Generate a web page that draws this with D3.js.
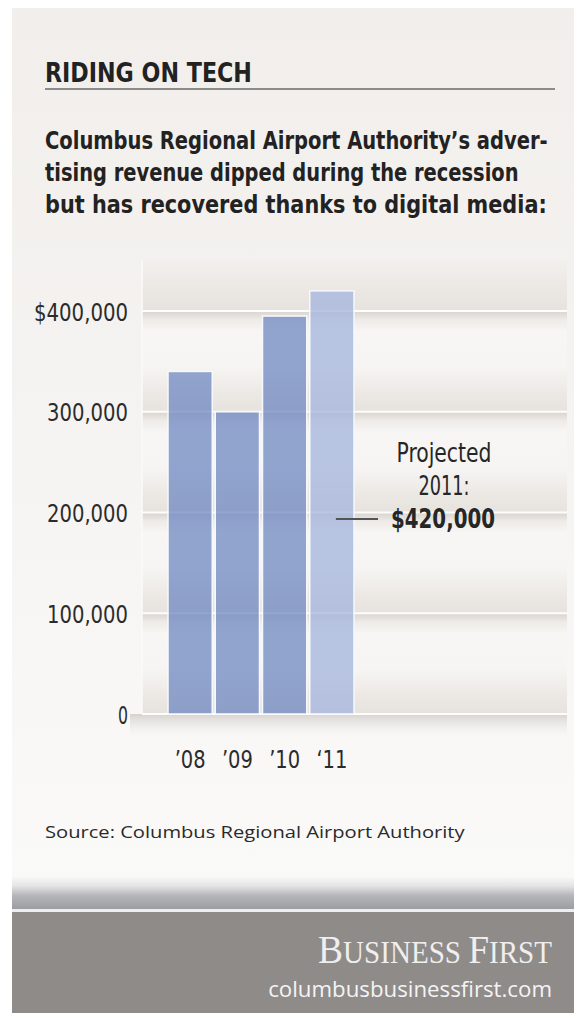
<!DOCTYPE html>
<html>
<head>
<meta charset="utf-8">
<script src="https://cdn.jsdelivr.net/npm/d3@7"></script>
<style>
  body { margin: 0; background: #ffffff; }
  svg { display: block; }
</style>
</head>
<body>
<svg width="574" height="1013"></svg>
<script>
// data
const years = ["\u201908", "\u201909", "\u201910", "\u201811"];
const revenue = [340000, 300000, 395000, 420000];
const projected = [false, false, false, true];
const yTicks = [0, 100000, 200000, 300000, 400000];
const subtitle = [
    "Columbus Regional Airport Authority\u2019s adver-",
    "tising revenue dipped during the recession",
    "but has recovered thanks to digital media:"
];
const noteLines = ["Projected", "2011:"];
const noteValue = "$420,000";

const narrow = "'Liberation Sans Narrow', 'DejaVu Sans Condensed', 'Roboto Condensed', sans-serif";

var svg = d3.select("svg");
var defs = svg.append("defs");

function grad(id, stops) {
    var g = defs.append("linearGradient").attr("id", id)
        .attr("x1", 0).attr("y1", 0).attr("x2", 0).attr("y2", 1);
    stops.forEach(function (s) {
        g.append("stop").attr("offset", s[0]).attr("stop-color", s[1])
            .attr("stop-opacity", s[2] === undefined ? 1 : s[2]);
    });
}

// squeeze a text horizontally to a width, scaling round its anchor point
function fit(sel, px, py, width) {
    sel.each(function (d, i) {
        var w = typeof width === "function" ? width(d, i) : width;
        var ax = typeof px === "function" ? px(d, i) : px;
        var ay = typeof py === "function" ? py(d, i) : py;
        var len = this.getComputedTextLength();
        d3.select(this).attr("x", 0).attr("y", 0)
            .attr("transform", "translate(" + ax + "," + ay + ") scale(" + (w / len) + ",1)");
    });
}

grad("card", [[0, "#f1eeeb"], [0.75, "#f9f8f7"], [1, "#fbfbfa"]]);
grad("band", [[0, "#d8d4d0"], [0.09, "#eeebe8"], [0.2, "#f7f6f4"], [0.55, "#f6f5f3"], [0.85, "#ebe7e3"], [1, "#e6e2de"]]);
grad("topband", [[0, "#f2f0ed"], [0.5, "#ece9e5"], [1, "#e6e2de"]]);
grad("baseShadow", [[0, "#d6d2ce", 1], [1, "#f8f8f7", 0]]);
grad("footer", [[0, "#fafafa"], [0.3, "#e4e4e5"], [0.6, "#b4b5b8"], [1, "#9c9da1"]]);

// card
svg.append("rect").attr("x", 12).attr("y", 8).attr("width", 562).attr("height", 1005)
    .attr("fill", "url(#card)");

// title
svg.append("text")
    .attr("font-family", narrow).attr("font-weight", "bold").attr("font-size", 27)
    .attr("fill", "#222")
    .text("RIDING ON TECH")
    .call(fit, 45, 82, 207);

svg.append("line").attr("x1", 45).attr("x2", 555).attr("y1", 89).attr("y2", 89)
    .attr("stroke", "#8d8b89").attr("stroke-width", 2);

var subLen = [503, 474, 502];
svg.append("g").selectAll("text")
    .data(subtitle)
    .enter()
    .append("text")
    .attr("font-family", narrow).attr("font-weight", "bold").attr("font-size", 24)
    .attr("fill", "#222")
    .text(function (d) { return d; })
    .call(fit, 45, function (d, i) { return 149 + i * 32; }, function (d, i) { return subLen[i]; });

// scales
var x = d3.scaleBand()
    .domain(years)
    .range([166.5, 355.5])
    .paddingInner(0.064)
    .paddingOuter(0.032);

var y = d3.scaleLinear()
    .domain([0, 400000])
    .range([714, 311]);

var plotLeft = 142, plotRight = 567;

// striped background bands
var plot = svg.append("g");
plot.append("rect")
    .attr("x", plotLeft).attr("width", plotRight - plotLeft)
    .attr("y", y(450000)).attr("height", y(400000) - y(450000))
    .attr("fill", "url(#topband)");

plot.selectAll("rect.band")
    .data(yTicks.slice(1))
    .enter()
    .append("rect")
    .attr("class", "band")
    .attr("x", plotLeft).attr("width", plotRight - plotLeft)
    .attr("y", function (d) { return y(d); })
    .attr("height", function (d) { return y(d - 100000) - y(d); })
    .attr("fill", "url(#band)");

plot.append("rect")
    .attr("x", 130).attr("width", plotRight - 130)
    .attr("y", y(0)).attr("height", 26)
    .attr("fill", "url(#baseShadow)");

plot.selectAll("line.grid")
    .data(yTicks)
    .enter()
    .append("line")
    .attr("class", "grid")
    .attr("x1", plotLeft).attr("x2", plotRight)
    .attr("y1", function (d) { return y(d); })
    .attr("y2", function (d) { return y(d); })
    .attr("stroke", "#fdfdfc").attr("stroke-width", 2);

plot.append("line")
    .attr("x1", plotLeft).attr("x2", plotLeft)
    .attr("y1", y(450000)).attr("y2", y(0))
    .attr("stroke", "#fbfaf9").attr("stroke-width", 1.5);

// bars
svg.append("g")
    .selectAll("rect")
    .data(revenue)
    .enter()
    .append("rect")
    .attr("x", function (d, i) { return x(years[i]); })
    .attr("width", x.bandwidth())
    .attr("y", function (d) { return y(d); })
    .attr("height", function (d) { return y(0) - y(d); })
    .attr("fill", function (d, i) { return projected[i] ? "#a3b4dc" : "#6f88c2"; })
    .attr("fill-opacity", 0.75)
    .attr("stroke", "#f7f8fc")
    .attr("stroke-width", 1.5);

// y axis
var y_axis = d3.axisLeft(y)
    .tickValues(yTicks)
    .tickSize(0)
    .tickPadding(0)
    .tickFormat(function (d) { return d === 400000 ? "$" + d3.format(",")(d) : d3.format(",")(d); });

var yg = svg.append("g")
    .attr("transform", "translate(128,0)")
    .call(y_axis);
yg.select(".domain").remove();
yg.selectAll("text")
    .attr("font-family", narrow).attr("font-size", 25).attr("fill", "#2b2b2b")
    .attr("dy", null)
    .call(fit, 0, 9, function (d) { return d === 0 ? 10 : (d === 400000 ? 94 : 81); });

// x axis
var x_axis = d3.axisBottom(x).tickSize(0).tickPadding(0);
var xg = svg.append("g")
    .attr("transform", "translate(0,768)")
    .call(x_axis);
xg.select(".domain").remove();
xg.selectAll("text")
    .attr("font-family", narrow).attr("font-size", 25).attr("fill", "#2b2b2b")
    .attr("dy", null)
    .call(fit, 0, 0, 31);

// projection note
var note = svg.append("g").attr("font-family", narrow).attr("fill", "#262626").attr("text-anchor", "middle");
note.selectAll("text.l")
    .data(noteLines)
    .enter()
    .append("text")
    .attr("class", "l")
    .attr("font-size", 26)
    .text(function (d) { return d; })
    .call(fit, 444, function (d, i) { return 462 + i * 33; }, function (d, i) { return i === 0 ? 95 : 51; });
note.append("text")
    .attr("font-size", 27).attr("font-weight", "bold")
    .text(noteValue)
    .call(fit, 443, 528, 104);
svg.append("line")
    .attr("x1", x("\u201811") + x.bandwidth() / 2 + 4).attr("x2", 378)
    .attr("y1", 519).attr("y2", 519)
    .attr("stroke", "#555").attr("stroke-width", 2);

// source
svg.append("text")
    .attr("font-family", "'Open Sans', 'Liberation Sans', sans-serif").attr("font-size", 17)
    .attr("fill", "#2a2a2a")
    .text("Source: Columbus Regional Airport Authority")
    .call(fit, 45, 838, 420);

// footer
svg.append("rect").attr("x", 12).attr("y", 876).attr("width", 562).attr("height", 33)
    .attr("fill", "url(#footer)");
svg.append("rect").attr("x", 12).attr("y", 909).attr("width", 562).attr("height", 3)
    .attr("fill", "#eeeeee");
svg.append("rect").attr("x", 12).attr("y", 912).attr("width", 562).attr("height", 101)
    .attr("fill", "#8f8b89");

var brand = svg.append("text")
    .attr("text-anchor", "end")
    .attr("font-family", "'Liberation Serif', 'DejaVu Serif', serif")
    .attr("fill", "#efefef");
brand.append("tspan").attr("font-size", 40).text("B");
brand.append("tspan").attr("font-size", 31).text("USINESS ");
brand.append("tspan").attr("font-size", 40).text("F");
brand.append("tspan").attr("font-size", 31).text("IRST");
brand.call(fit, 552, 963, 234);

svg.append("text")
    .attr("text-anchor", "end")
    .attr("font-family", "'Open Sans', 'Liberation Sans', sans-serif").attr("font-size", 21)
    .attr("fill", "#f4f4f4")
    .text("columbusbusinessfirst.com")
    .call(fit, 552, 997, 284);
</script>
</body>
</html>
